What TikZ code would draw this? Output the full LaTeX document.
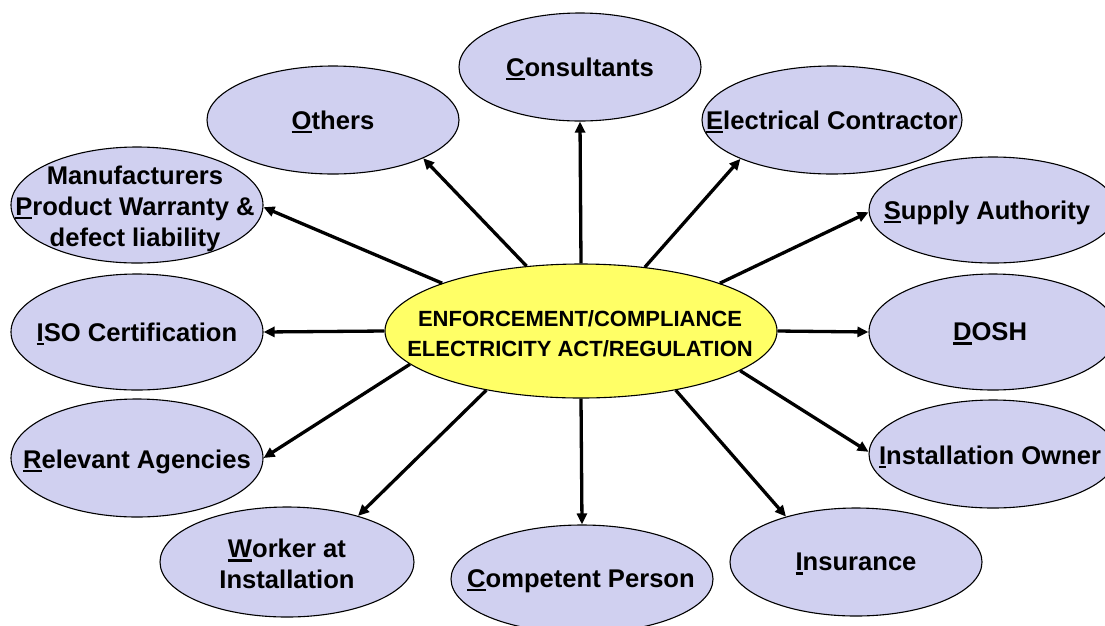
\documentclass[tikz,border=0pt]{standalone}
\usepackage{fontspec}
\setmainfont{Liberation Sans}
\usetikzlibrary{arrows.meta,shapes.geometric}
\definecolor{lav}{RGB}{208,208,240}
\definecolor{yel}{RGB}{255,255,102}
\newcommand\firstul[1]{\setbox0\hbox{#1}\rlap{\rule[-4pt]{\wd0}{2.4pt}}\box0}
\begin{document}
\begin{tikzpicture}[x=1pt,y=-1pt,
  bub/.style={ellipse, draw=black, line width=1.1pt, fill=lav, inner sep=0pt},
  hub/.style={ellipse, draw=black, line width=1.1pt, fill=yel, inner sep=0pt},
  txt/.style={font=\bfseries\fontsize{25.6}{30.8}\selectfont, align=center, inner sep=0pt, yshift=-1.8pt},
  hubtxt/.style={font=\bfseries\fontsize{22}{30}\selectfont, align=center, inner sep=0pt},
  conn/.style={line width=3.3pt, -{Triangle[length=11pt,width=10pt]}}]
\path[use as bounding box, fill=white] (0,0) rectangle (1105,625);

% hub
\node[hub, minimum width=392pt, minimum height=134pt] (c) at (581,331) {};
\node[hubtxt] (ct) at (580,333.5) {ENFORCEMENT/COMPLIANCE\\ELECTRICITY ACT/REGULATION};

% satellites
\node[bub, minimum width=242pt, minimum height=108pt] (cons) at (580,67) {};
\node[txt] (const) at (cons.center) {\firstul{C}onsultants};

\node[bub, minimum width=252pt, minimum height=108pt] (oth) at (333,120) {};
\node[txt] (otht) at (oth.center) {\firstul{O}thers};

\node[bub, minimum width=260pt, minimum height=108pt] (elec) at (832,120) {};
\node[txt] (elect) at (elec.center) {\firstul{E}lectrical Contractor};

\node[bub, minimum width=252pt, minimum height=116pt] (manu) at (137,205) {};
\node[txt] (manut) at (135,207) {Manufacturers\\\firstul{P}roduct Warranty \&\\defect liability};

\node[bub, minimum width=248pt, minimum height=106pt] (supp) at (993,210) {};
\node[txt] (suppt) at (987,211) {\firstul{S}upply Authority};

\node[bub, minimum width=252pt, minimum height=116pt] (iso) at (137,332) {};
\node[txt] (isot) at (iso.center) {\firstul{I}SO Certification};

\node[bub, minimum width=248pt, minimum height=116pt] (dosh) at (993,332) {};
\node[txt] (dosht) at (990,332) {\firstul{D}OSH};

\node[bub, minimum width=252pt, minimum height=118pt] (rel) at (137,458) {};
\node[txt] (relt) at (137,460) {\firstul{R}elevant Agencies};

\node[bub, minimum width=248pt, minimum height=108pt] (own) at (993,454) {};
\node[txt] (ownt) at (990,455) {\firstul{I}nstallation Owner};

\node[bub, minimum width=254pt, minimum height=110pt] (work) at (287,562) {};
\node[txt] (workt) at (287,562) {\firstul{W}orker at\\Installation};

\node[bub, minimum width=262pt, minimum height=108pt] (comp) at (582,579) {};
\node[txt] (compt) at (581,579) {\firstul{C}ompetent Person};

\node[bub, minimum width=252pt, minimum height=108pt] (ins) at (856,562) {};
\node[txt] (inst) at (856,562) {\firstul{I}nsurance};

% connectors
\draw[conn] (c.90) -- (cons.270);
\draw[conn] (c.130) -- (oth.-23.4);
\draw[conn] (c.45.4) -- (elec.203);
\draw[conn] (c.161) -- (manu.-1.3);
\draw[conn] (c.19) -- (supp.181);
\draw[conn] (c.180) -- (iso.0);
\draw[conn] (c.0) -- (dosh.180);
\draw[conn] (c.191) -- (rel.0);
\draw[conn] (c.212) -- (work.33.5);
\draw[conn] (c.270) -- (comp.90);
\draw[conn] (c.328) -- (ins.147);
\draw[conn] (c.346) -- (own.179);
\end{tikzpicture}
\end{document}
